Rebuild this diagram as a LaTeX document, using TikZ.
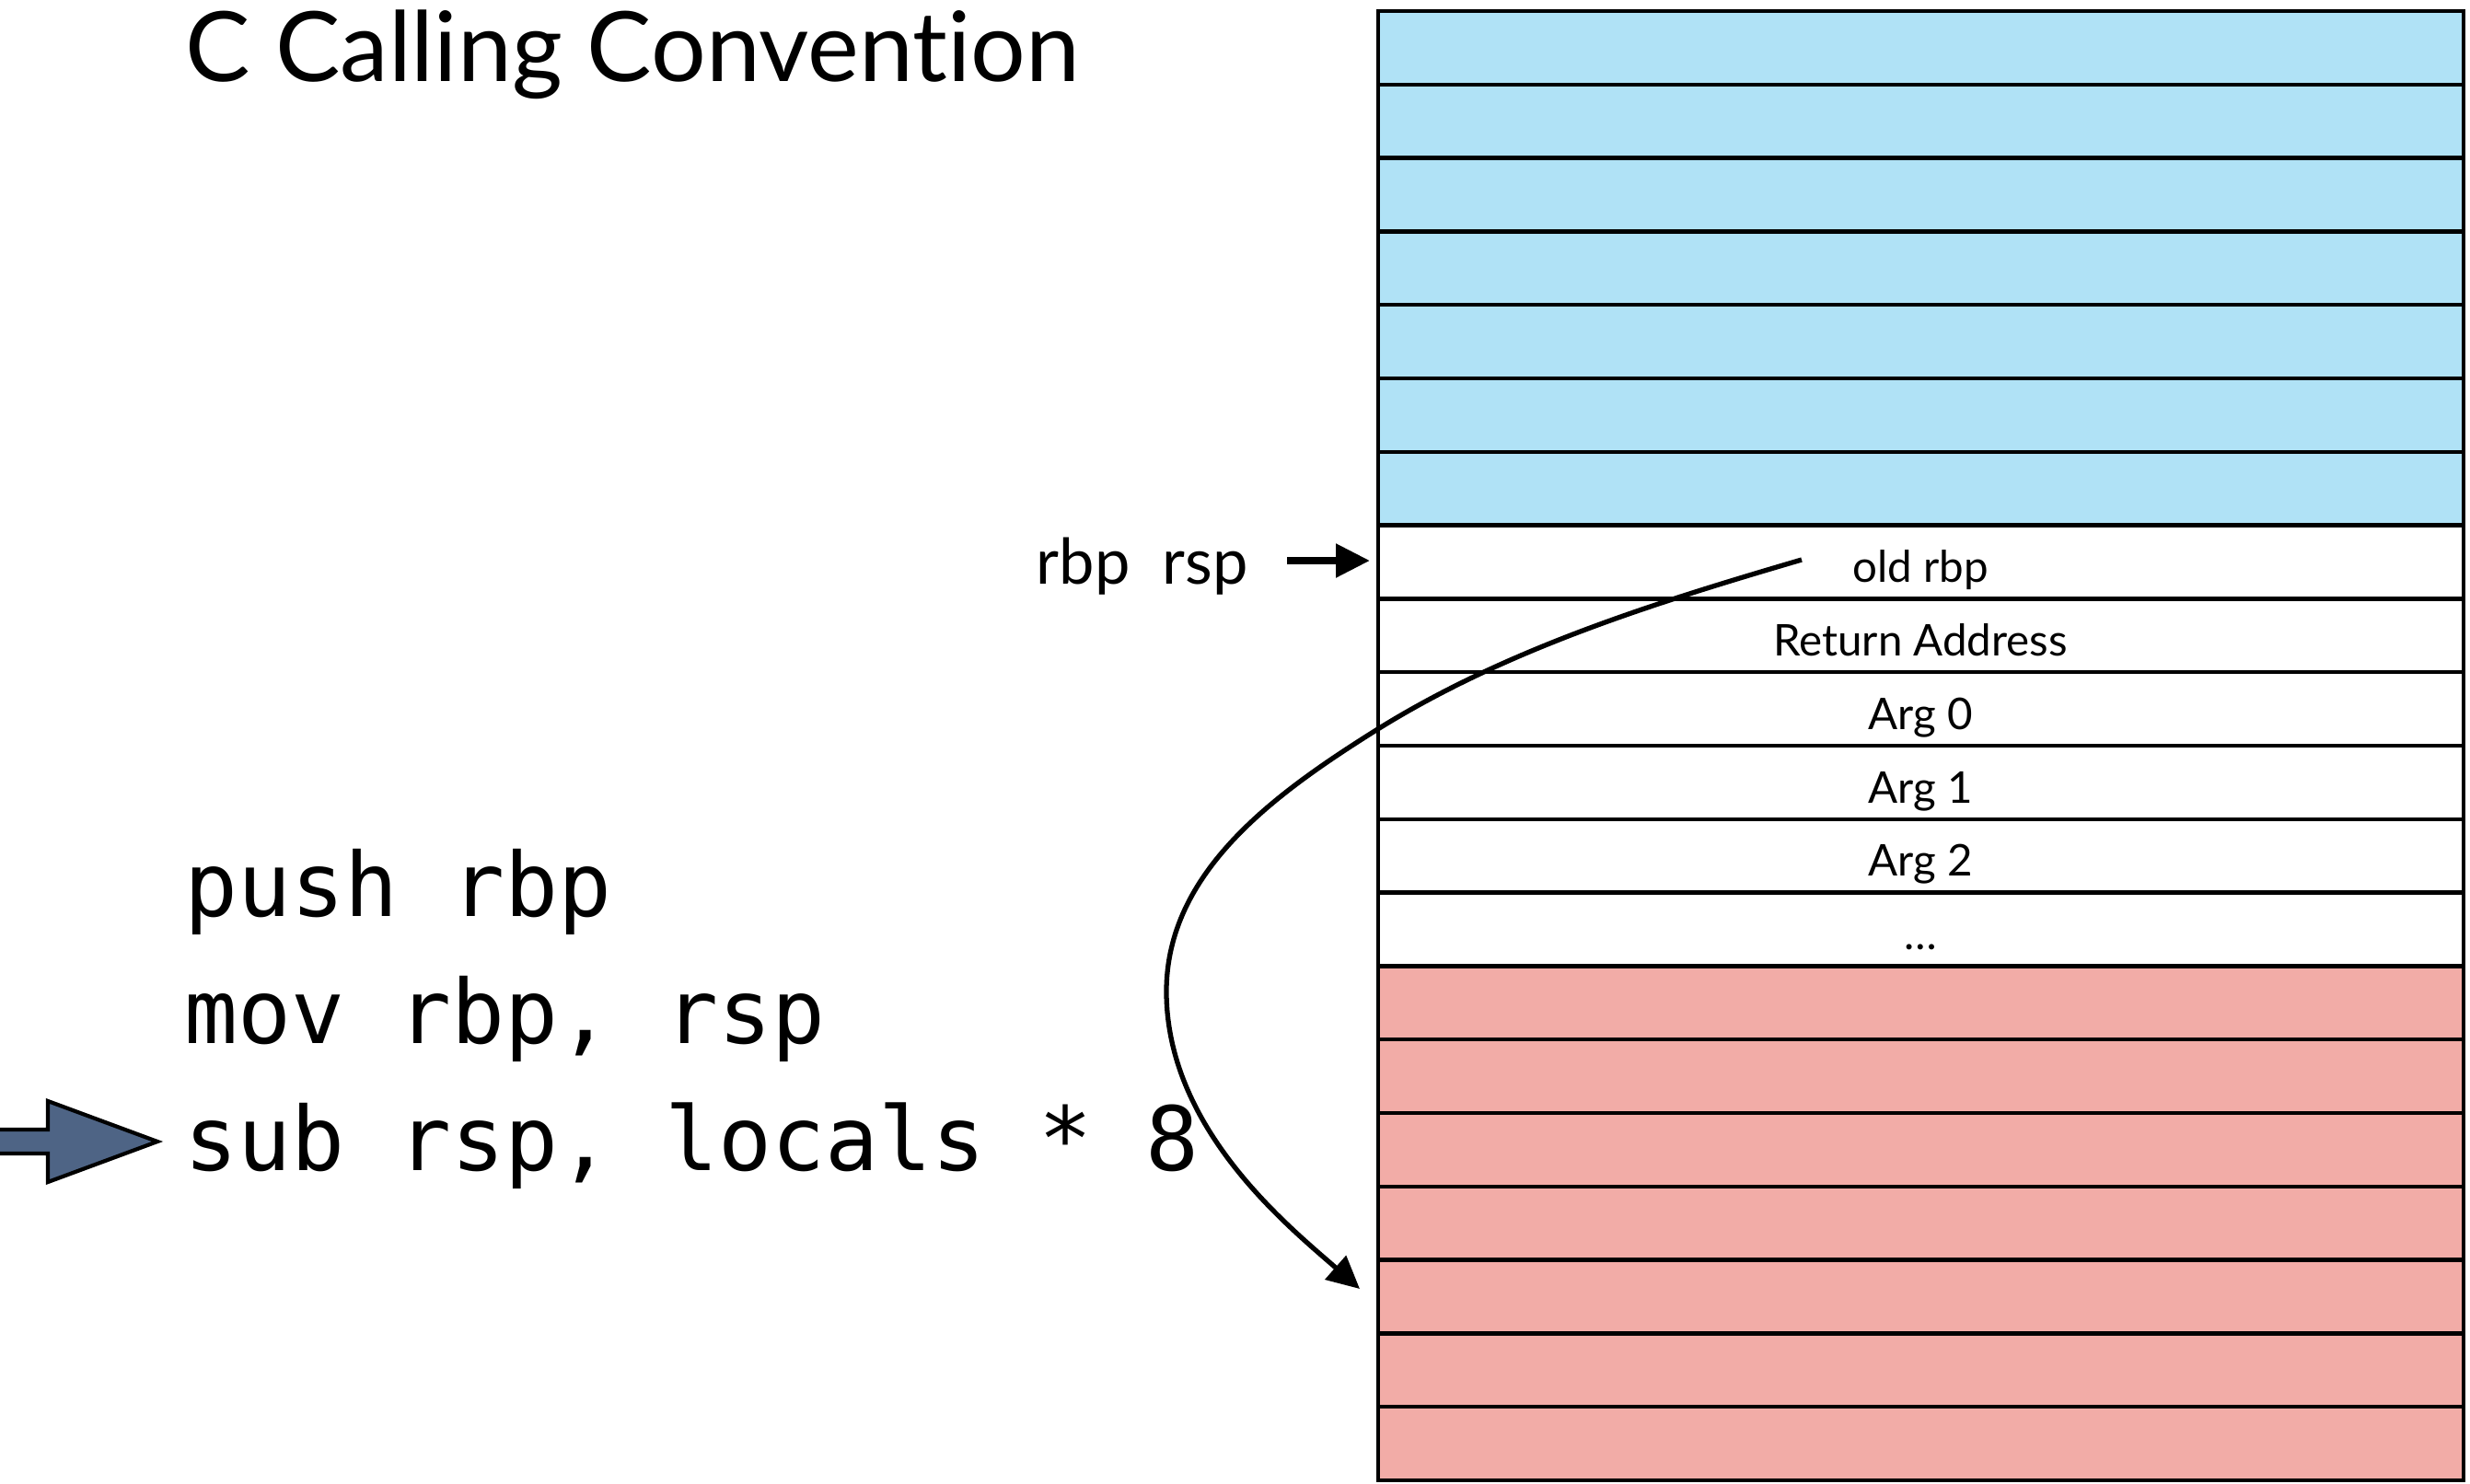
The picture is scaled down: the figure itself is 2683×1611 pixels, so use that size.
\documentclass[tikz,border=0pt]{standalone}
\usepackage{fontspec}
\setmainfont{Lato}[Ligatures=NoCommon]
\newfontfamily\codefont{DejaVu Sans Mono}
\usetikzlibrary{arrows.meta}
\definecolor{stackblue}{RGB}{176,226,246}
\definecolor{stackred}{RGB}{242,172,167}
\definecolor{arrowslate}{RGB}{78,100,133}
\begin{document}
\begin{tikzpicture}[x=0.01cm,y=-0.01cm,
  cell/.style={draw=black, line width=1.25pt, minimum width=11.78cm, minimum height=0.798cm, inner sep=0pt, outer sep=0pt, anchor=north west},
  celltext/.style={font=\fontsize{13.5pt}{16pt}\selectfont, anchor=base, inner sep=0pt},
  codeline/.style={font=\codefont\fontsize{27.4pt}{33pt}\selectfont, anchor=base west, inner sep=0pt},
  connector/.style={line width=1.5pt, -{Triangle[length=10pt,width=9.6pt]}},
  pointer/.style={line width=2.2pt, -{Triangle[length=10.5pt,width=10pt]}},
  bigarrow/.style={draw=black, line width=1.2pt, fill=arrowslate, line join=miter}
]
\useasboundingbox (0,0) rectangle (2683,1611);
\fill[white] (0,0) rectangle (2683,1611);

% title
\node[anchor=base west, inner sep=0pt, font=\fontsize{30pt}{36pt}\selectfont] (title) at (201,88) {C Calling Convention};

% code
\node[codeline] (code1) at (200,995) {push rbp};
\node[codeline] (code2) at (200,1133) {mov rbp, rsp};
\node[codeline] (code3) at (200,1271) {sub rsp, locals * 8};

% big current-line arrow
\draw[bigarrow] (-20,1227) -- (52,1227) -- (52,1196) -- (171,1240) -- (52,1284) -- (52,1253) -- (-20,1253) -- cycle;

% stack
\foreach \i in {0,...,6}
  \node[cell, fill=stackblue] (blue\i) at (1497,{12+\i*79.8}) {};
\foreach \i in {0,...,5}
  \node[cell, fill=white] (slot\i) at (1497,{12+(7+\i)*79.8}) {};
\foreach \i in {0,...,6}
  \node[cell, fill=stackred] (red\i) at (1497,{12+(13+\i)*79.8}) {};

\foreach \i/\t in {0/old rbp, 1/Return Address, 2/Arg 0, 3/Arg 1, 4/Arg 2, 5/\dots}
  \node[celltext] (label\i) at (2086,{12+(7+\i)*79.8+62}) {\t};

% rbp rsp pointer
\node[anchor=base west, inner sep=0pt, font=\fontsize{19.5pt}{24pt}\selectfont] (regs) at (1125,634) {rbp~~rsp};
\coordinate (ptrstart) at (1398,609);
\coordinate (ptrend) at (1488,609);
\draw[pointer] (ptrstart) -- (ptrend);

% curved connector
\coordinate (curvestart) at (1957,608);
\coordinate (curveend) at (1477,1400);
\draw[connector] (curvestart) .. controls (1797,655) and (1636,705) .. (1495,793)
  .. controls (1385,862) and (1267,947) .. (1267,1077)
  .. controls (1267,1227) and (1402,1334) .. (curveend);
\end{tikzpicture}
\end{document}
